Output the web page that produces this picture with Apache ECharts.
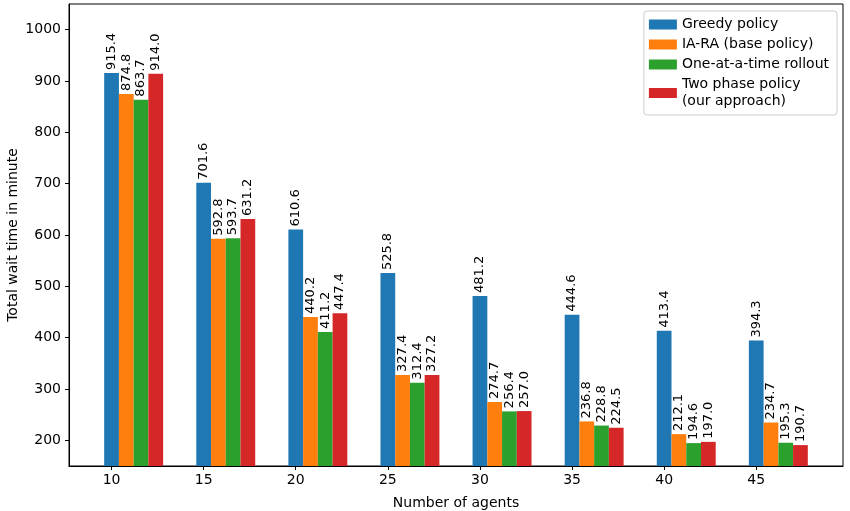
<!DOCTYPE html>
<html>
<head>
<meta charset="utf-8">
<script src="https://cdn.jsdelivr.net/npm/echarts@6/dist/echarts.min.js"></script>
<style>
  html, body { margin: 0; padding: 0; background: #fff; }
  #chart { width: 850px; height: 511px; }
</style>
</head>
<body>
<div id="chart"></div>
<script>
// Total wait time per policy, grouped by number of agents.
const agents = [10, 15, 20, 25, 30, 35, 40, 45];
const greedy = [915.4, 701.6, 610.6, 525.8, 481.2, 444.6, 413.4, 394.3];
const iara = [874.8, 592.8, 440.2, 327.4, 274.7, 236.8, 212.1, 234.7];
const oneAtATime = [863.7, 593.7, 411.2, 312.4, 256.4, 228.8, 194.6, 195.3];
const twoPhase = [914.0, 631.2, 447.4, 327.2, 257.0, 224.5, 197.0, 190.7];
const seriesNames = ["Greedy policy", "IA-RA (base policy)", "One-at-a-time rollout", "Two phase policy\n(our approach)"];
const yTicks = [200, 300, 400, 500, 600, 700, 800, 900, 1000];

const colors = ["#1f77b4", "#ff7f0e", "#2ca02c", "#d62728"];
const FONT = "DejaVu Sans";
const BAR_W = 0.8;
const Y_MIN = 150, Y_MAX = 1050;

function renderBar(params, api) {
  const x = api.value(0), v = api.value(1);
  const top = api.coord([x, v]);
  const base = api.coord([x, Y_MIN]);
  const w = api.size([BAR_W, 0])[0];
  return {
    type: "group",
    children: [
      {
        type: "rect",
        shape: { x: top[0] - w / 2, y: top[1], width: w, height: base[1] - top[1] },
        style: { fill: api.visual("color") },
      },
      {
        type: "text",
        x: top[0], y: top[1] - 3,
        rotation: Math.PI / 2,
        style: { text: v.toFixed(1), align: "left", verticalAlign: "middle", fill: "#000", font: `13px "${FONT}"` },
      },
    ],
  };
}

const all = [greedy, iara, oneAtATime, twoPhase];
const series = all.map((vals, i) => ({
  name: seriesNames[i],
  type: "custom",
  renderItem: renderBar,
  itemStyle: { color: colors[i] },
  encode: { x: 0, y: 1 },
  data: vals.map((v, j) => [agents[j] + i * BAR_W, v]),
  clip: true,
}));

const chart = echarts.init(document.getElementById("chart"), null, { renderer: "canvas" });
chart.setOption({
  animation: false,
  backgroundColor: "#fff",
  textStyle: { fontFamily: FONT },
  grid: {
    left: 69, right: 7, top: 4, bottom: 45,
    outerBoundsMode: "none", containLabel: false,
    show: true, borderColor: "#000", borderWidth: 1,
  },
  legend: {
    orient: "vertical",
    right: 13, top: 11,
    padding: [5, 8, 5, 5],
    itemWidth: 28, itemHeight: 10, itemGap: 3,
    icon: "rect",
    borderColor: "#ccc", borderWidth: 1, borderRadius: 3,
    backgroundColor: "#fff",
    textStyle: { fontFamily: FONT, fontSize: 14, color: "#000", lineHeight: 17 },
    data: seriesNames,
  },
  xAxis: {
    type: "value",
    min: 7.69, max: 49.71,
    name: "Number of agents",
    nameLocation: "middle", nameGap: 30,
    nameMoveOverlap: false,
    nameTextStyle: { fontFamily: FONT, fontSize: 14, color: "#000" },
    axisLine: { show: true, lineStyle: { color: "#000" } },
    axisTick: { show: true, length: 4, customValues: agents, lineStyle: { color: "#000" } },
    axisLabel: { customValues: agents, fontFamily: FONT, fontSize: 14, color: "#000", margin: 7 },
    splitLine: { show: false },
  },
  yAxis: {
    type: "value",
    min: Y_MIN, max: Y_MAX,
    name: "Total wait time in minute",
    nameLocation: "middle", nameGap: 49,
    nameMoveOverlap: false,
    nameTextStyle: { fontFamily: FONT, fontSize: 14, color: "#000" },
    axisLine: { show: true, lineStyle: { color: "#000" } },
    axisTick: { show: true, length: 4, customValues: yTicks, lineStyle: { color: "#000" } },
    axisLabel: { customValues: yTicks, formatter: v => String(v), fontFamily: FONT, fontSize: 14, color: "#000", margin: 8 },
    splitLine: { show: false },
  },
  series,
});
</script>
</body>
</html>
